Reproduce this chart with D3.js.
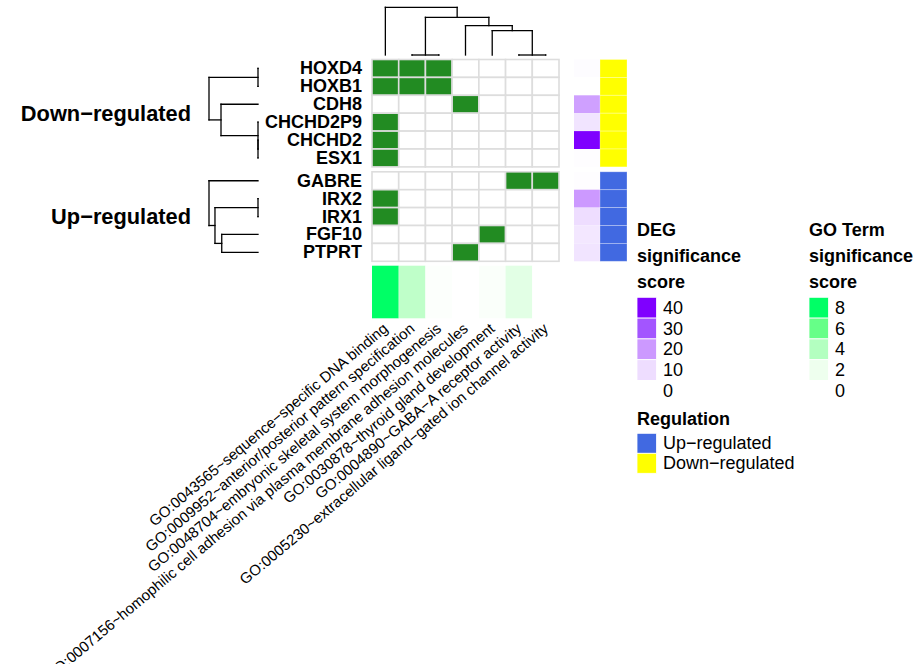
<!DOCTYPE html>
<html><head><meta charset="utf-8">
<script src="https://cdn.jsdelivr.net/npm/d3@7"></script>
<style>body{margin:0;background:#fff}svg{display:block;font-family:"Liberation Sans",Arial,Helvetica,sans-serif}</style>
</head><body><svg id="c" width="922" height="664"></svg>
<script>
// ---------- data ----------
const goTerms = [
  "GO:0043565~sequence\u2212specific DNA binding",
  "GO:0009952~anterior/posterior pattern specification",
  "GO:0048704~embryonic skeletal system morphogenesis",
  "GO:0007156~homophilic cell adhesion via plasma membrane adhesion molecules",
  "GO:0030878~thyroid gland development",
  "GO:0004890~GABA\u2212A receptor activity",
  "GO:0005230~extracellular ligand\u2212gated ion channel activity"
];
const downGenes = ["HOXD4","HOXB1","CDH8","CHCHD2P9","CHCHD2","ESX1"];
const upGenes = ["GABRE","IRX2","IRX1","FGF10","PTPRT"];
const groupLabels = ["Down\u2212regulated","Up\u2212regulated"];
const downMatrix = [
  [1,1,1,0,0,0,0],
  [1,1,1,0,0,0,0],
  [0,0,0,1,0,0,0],
  [1,0,0,0,0,0,0],
  [1,0,0,0,0,0,0],
  [1,0,0,0,0,0,0]
];
const upMatrix = [
  [0,0,0,0,0,1,1],
  [1,0,0,0,0,0,0],
  [1,0,0,0,0,0,0],
  [0,0,0,0,1,0,0],
  [0,0,0,1,0,0,0]
];
const downDEG = [1, 0, 19, 8, 42, 0.5];
const upDEG = [0.5, 20, 10, 7, 8];
const goScore = [8.4, 3.6, 0.4, 0, 0.6, 2.4, 0];
// hclust-style merges: [left, right, height]; negative = leaf (1-based), positive = earlier merge
const colMerge = [[-2,-3,0],[-6,-7,0],[-5,2,0.51],[-4,3,0.614],[1,4,0.79],[-1,5,1.0]];
const downMerge = [[-1,-2,0],[-5,-6,0],[-4,2,0],[-3,3,0.755],[1,4,1.0]];
const upMerge = [[-2,-3,0],[-4,-5,0.74],[1,2,0.878],[-1,3,1.0]];
const degBreaks = [40,30,20,10,0];
const goBreaks = [8,6,4,2,0];
const regLevels = ["Up\u2212regulated","Down\u2212regulated"];

// ---------- styles ----------
const degColor = d3.scaleLinear().domain([0,10,20,30,40]).range(["#FFFFFF","#EEDDFF","#CC99FF","#A355FF","#7F00FF"]).clamp(true);
const goColor = d3.scaleLinear().domain([0,2,4,6,8]).range(["#FFFFFF","#EEFFEE","#B3FFC0","#66FF88","#00FF66"]).clamp(true);
const regColor = d3.scaleOrdinal().domain(regLevels).range(["#4169E1","#FFFF00"]);
const cellColor = v => v ? "#228B22" : "#FFFFFF";

const svg = d3.select("#c");
const FONT = '"Liberation Sans",Arial,Helvetica,sans-serif';

// ---------- layout scales ----------
const x = d3.scaleBand().domain(d3.range(goTerms.length)).range([372, 559]);
const rowH = 17.9;
const yDown = d3.scaleBand().domain(downGenes).range([59.5, 59.5 + rowH*downGenes.length]);
const upTop = 59.5 + rowH*downGenes.length + 4.9;
const yUp = d3.scaleBand().domain(upGenes).range([upTop, upTop + rowH*upGenes.length]);

const groups = [
  {genes: downGenes, matrix: downMatrix, deg: downDEG, reg: regLevels[1], y: yDown, merge: downMerge, label: groupLabels[0]},
  {genes: upGenes, matrix: upMatrix, deg: upDEG, reg: regLevels[0], y: yUp, merge: upMerge, label: groupLabels[1]}
];

// ---------- dendrogram helper ----------
function dendroSegments(merge, leafPos) {
  const pos = [], ht = [], segs = [];
  const get = i => i < 0 ? [leafPos(-i-1), 0] : [pos[i-1], ht[i-1]];
  merge.forEach((m, k) => {
    const [pa, ha] = get(m[0]); const [pb, hb] = get(m[1]);
    const p = (pa + pb)/2, h = m[2];
    segs.push({p1: pa, h1: ha, p2: pa, h2: h});
    segs.push({p1: pb, h1: hb, p2: pb, h2: h});
    segs.push({p1: pa, h1: h, p2: pb, h2: h});
    pos[k] = p; ht[k] = h;
  });
  return segs;
}

// column dendrogram
const colH = d3.scaleLinear().domain([0,1]).range([55, 7.3]);
const colSegs = dendroSegments(colMerge, i => x(i) + x.bandwidth()/2);
svg.append("g").selectAll("line").data(colSegs).join("line")
  .attr("x1", d => d.p1).attr("x2", d => d.p2)
  .attr("y1", d => colH(d.h1)).attr("y2", d => colH(d.h2))
  .attr("stroke", "#000").attr("stroke-width", 1.3).attr("stroke-linecap", "square");

// row dendrograms
const rowHScale = d3.scaleLinear().domain([0,1]).range([258, 209]);
groups.forEach(g => {
  const segs = dendroSegments(g.merge, i => g.y(g.genes[i]) + g.y.bandwidth()/2);
  svg.append("g").selectAll("line").data(segs).join("line")
    .attr("y1", d => d.p1).attr("y2", d => d.p2)
    .attr("x1", d => rowHScale(d.h1)).attr("x2", d => rowHScale(d.h2))
    .attr("stroke", "#000").attr("stroke-width", 1.3).attr("stroke-linecap", "square");
});

// heatmap bodies
groups.forEach(g => {
  const cells = [];
  g.genes.forEach((gene, r) => g.matrix[r].forEach((v, c) => cells.push({gene, c, v})));
  const gg = svg.append("g");
  gg.selectAll("rect").data(cells).join("rect")
    .attr("x", d => x(d.c)).attr("y", d => g.y(d.gene))
    .attr("width", x.bandwidth()).attr("height", g.y.bandwidth())
    .attr("fill", d => cellColor(d.v))
    .attr("stroke", "#DDDDDD").attr("stroke-width", 1.6);
  // row labels
  svg.append("g").selectAll("text").data(g.genes).join("text")
    .attr("x", 362).attr("y", d => g.y(d) + g.y.bandwidth()/2)
    .attr("text-anchor", "end").attr("dominant-baseline", "central")
    .attr("font-family", FONT).attr("font-weight", "bold").attr("font-size", 18)
    .text(d => d);
  // group label
  const [y0, y1] = g.y.range();
  svg.append("text").attr("x", 191).attr("y", (y0 + y1)/2)
    .attr("text-anchor", "end").attr("dominant-baseline", "central")
    .attr("font-family", FONT).attr("font-weight", "bold").attr("font-size", 21.8)
    .text(g.label);
  // DEG annotation
  svg.append("g").selectAll("rect").data(g.genes).join("rect")
    .attr("x", 574).attr("y", d => g.y(d)).attr("width", 26).attr("height", g.y.bandwidth())
    .attr("fill", (d, i) => degColor(g.deg[i]));
  // regulation annotation
  svg.append("g").selectAll("rect").data(g.genes).join("rect")
    .attr("x", 600).attr("y", d => g.y(d)).attr("width", 27).attr("height", g.y.bandwidth())
    .attr("fill", regColor(g.reg))
    .attr("stroke", "rgba(255,255,255,0.35)").attr("stroke-width", 0.8);
});

// GO annotation bar
svg.append("g").selectAll("rect").data(goScore).join("rect")
  .attr("x", (d, i) => x(i)).attr("y", 265.7).attr("width", x.bandwidth()).attr("height", 52.6)
  .attr("fill", d => goColor(d));

// column labels
svg.append("g").selectAll("text").data(goTerms).join("text")
  .attr("transform", (d, i) => `translate(${x(i) + x.bandwidth()/2},326) rotate(-40)`)
  .attr("text-anchor", "end").attr("dominant-baseline", "central")
  .attr("font-family", FONT).attr("font-size", 15)
  .text(d => d);

// ---------- legends ----------
function titleLines(xp, lines) {
  svg.append("g").selectAll("text").data(lines).join("text")
    .attr("x", xp).attr("y", (d, i) => 236 + i*26.2)
    .attr("font-family", FONT).attr("font-weight", "bold").attr("font-size", 18)
    .text(d => d);
}
function boxLegend(xp, y0, breaks, color, bh) {
  const g = svg.append("g");
  g.selectAll("rect").data(breaks).join("rect")
    .attr("x", xp).attr("y", (d, i) => y0 + i*bh).attr("width", 19.5).attr("height", bh)
    .attr("fill", d => color(d)).attr("stroke", "#FFFFFF").attr("stroke-width", 0.8);
  g.selectAll("text").data(breaks).join("text")
    .attr("x", xp + 26).attr("y", (d, i) => y0 + i*bh + bh/2)
    .attr("dominant-baseline", "central")
    .attr("font-family", FONT).attr("font-size", 18)
    .text(d => d);
}
titleLines(637, ["DEG", "significance", "score"]);
boxLegend(637, 297.3, degBreaks, degColor, 20.8);
titleLines(809, ["GO Term", "significance", "score"]);
boxLegend(809, 297.3, goBreaks, goColor, 20.8);

svg.append("text").attr("x", 637).attr("y", 425)
  .attr("font-family", FONT).attr("font-weight", "bold").attr("font-size", 18).text("Regulation");
boxLegend(637, 433.3, regLevels, regColor, 20);
</script>
</body></html>
